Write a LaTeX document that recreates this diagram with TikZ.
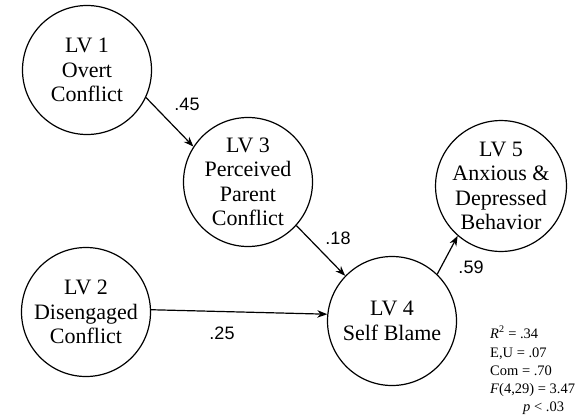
\documentclass[tikz,border=0pt]{standalone}
\usepackage{fontspec}
\setmainfont{Liberation Serif}
\newfontfamily\numfont{Liberation Sans}
\usetikzlibrary{arrows.meta}
\tikzset{
  lv/.style={circle, draw, line width=1.2pt, minimum size=129pt, inner sep=0pt,
    align=center, font=\fontsize{22}{24.5}\selectfont},
  path/.style={line width=1.2pt, -{Stealth[length=10pt,width=7.5pt]}},
  coef/.style={font=\numfont\fontsize{18}{20}\selectfont, inner sep=0pt},
  stat/.style={anchor=base west, inner sep=0pt, font=\fontsize{14.5}{16}\selectfont}
}
\begin{document}
\begin{tikzpicture}[x=1pt,y=-1pt]
  \useasboundingbox (0,0) rectangle (588,415);
  % latent variables
  \node[lv] (lv1) at (87,70)  {LV 1\\Overt\\Conflict};
  \node[lv] (lv2) at (86,312) {LV 2\\Disengaged\\Conflict};
  \node[lv] (lv3) at (248,182) {LV 3\\Perceived\\Parent\\Conflict};
  \node[lv] (lv4) at (392,321) {LV 4\\Self Blame};
  \node[lv] (lv5) at (501,186) {LV 5\\Anxious \&\\Depressed\\Behavior};
  % structural paths
  \draw[path] (lv1.-25) -- (lv3.147);
  \draw[path] (lv3.-42) -- (lv4.136);
  \draw[path] (lv2.2) -- (lv4.174);
  \draw[path] (lv4.46) -- (lv5.229);
  % path coefficients
  \node[coef] (c13) at (187,104) {.45};
  \node[coef] (c34) at (338,238) {.18};
  \node[coef] (c24) at (222,333) {.25};
  \node[coef] (c45) at (471,267) {.59};
  % model statistics for LV 4
  \node[stat] (s1) at (490,338) {\textit{R}\textsuperscript{2} = .34};
  \node[stat] (s2) at (490,357) {E,U = .07};
  \node[stat] (s3) at (490,375) {Com = .70};
  \node[stat] (s4) at (490,393) {\textit{F}(4,29) = 3.47};
  \node[stat] (s5) at (523,411) {\textit{p} < .03};
\end{tikzpicture}
\end{document}
